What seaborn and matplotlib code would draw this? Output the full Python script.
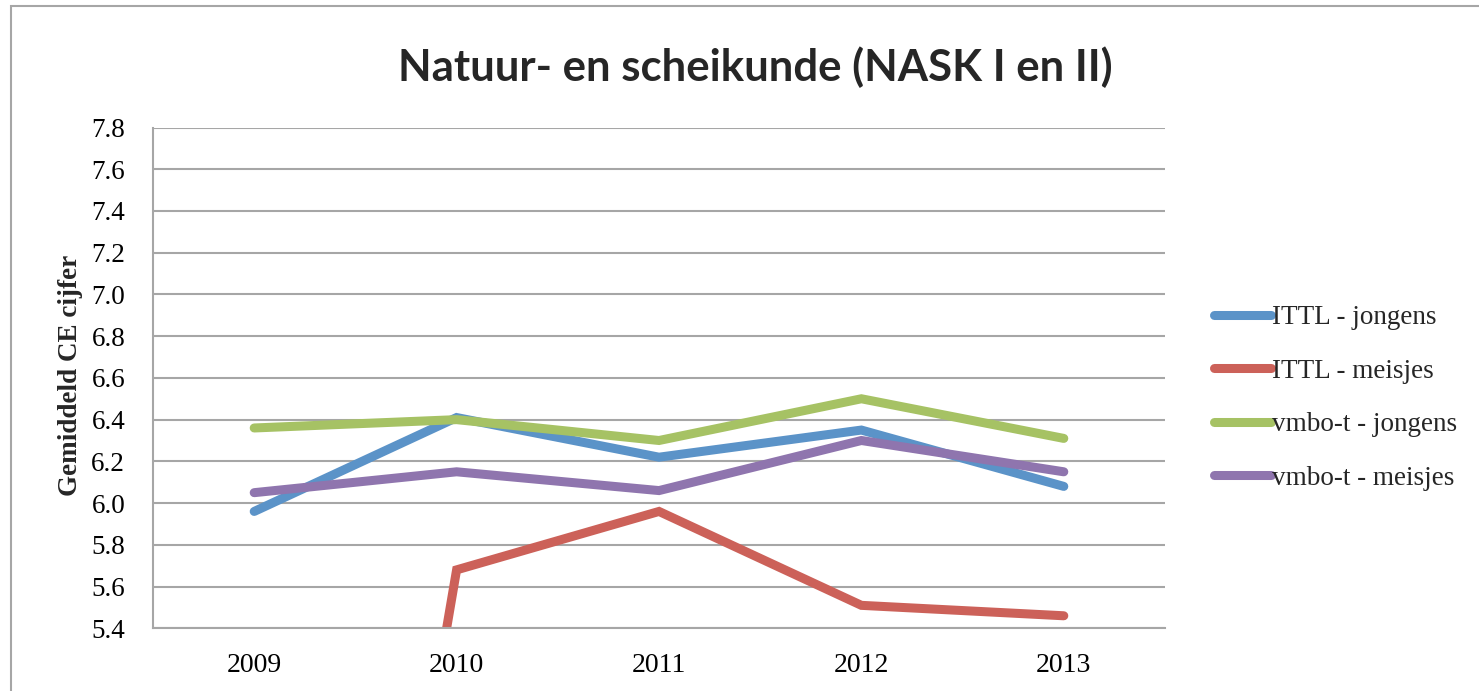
import matplotlib
matplotlib.use("Agg")
import matplotlib.pyplot as plt
import seaborn as sns
import pandas as pd
from matplotlib.patches import Rectangle
from matplotlib.lines import Line2D

years = ["2009", "2010", "2011", "2012", "2013"]
ittl_jongens = [5.96, 6.41, 6.22, 6.35, 6.08]
ittl_meisjes = [0.0, 5.68, 5.96, 5.51, 5.46]
vmbo_jongens = [6.36, 6.40, 6.30, 6.50, 6.31]
vmbo_meisjes = [6.05, 6.15, 6.06, 6.30, 6.15]
series_names = ["ITTL - jongens", "ITTL - meisjes", "vmbo-t - jongens", "vmbo-t - meisjes"]
colors = ["#5B93C8", "#CC6159", "#A6C264", "#8F75AE"]
yticks = [5.4, 5.6, 5.8, 6.0, 6.2, 6.4, 6.6, 6.8, 7.0, 7.2, 7.4, 7.6, 7.8]

rows = []
for name, vals in zip(series_names, [ittl_jongens, ittl_meisjes, vmbo_jongens, vmbo_meisjes]):
    for y, v in zip(years, vals):
        rows.append({"Jaar": y, "Cijfer": v, "Serie": name})
df = pd.DataFrame(rows)

sns.set_theme(style="white")
serif = ["Liberation Serif", "DejaVu Serif"]
plt.rcParams["font.family"] = serif

W, H = 1479, 691
fig = plt.figure(figsize=(W / 100, H / 100), dpi=100)
ax = fig.add_axes([153 / W, 1 - 628.3 / H, (1165 - 153) / W, (628.3 - 127.5) / H])

LW = 6.5
sns.lineplot(data=df, x="Jaar", y="Cijfer", hue="Serie", hue_order=series_names,
             palette=colors, linewidth=LW, ax=ax, sort=False, legend=False)
for ln in ax.get_lines():
    ln.set_solid_capstyle("round")
    ln.set_solid_joinstyle("miter")

ax.set_xlim(-0.5, 4.5)
ax.set_ylim(5.4, 7.8)
ax.set_yticks(yticks)
ax.set_yticklabels([f"{t:.1f}" for t in yticks])
ax.yaxis.grid(True, color="#A6A6A6", linewidth=1.5)
ax.set_axisbelow(True)
for s in ["top", "right"]:
    ax.spines[s].set_visible(False)
for s in ["left", "bottom"]:
    ax.spines[s].set_color("#A6A6A6")
    ax.spines[s].set_linewidth(1.5)
ax.tick_params(axis="both", length=0, colors="black")
ax.tick_params(axis="y", pad=20, labelsize=19.5)
ax.tick_params(axis="x", pad=18, labelsize=20)
ax.set_xlabel("")
ax.set_ylabel("Gemiddeld CE cijfer", fontsize=19.5, fontweight="bold", family=serif, labelpad=6)
ax.yaxis.label.set_y(0.505)

fig.text(755 / W, 1 - 67 / H, "Natuur- en scheikunde (NASK I en II)", ha="center", va="center",
         fontsize=31.5, fontweight="bold", family=["Lato", "DejaVu Sans"])

handles = [Line2D([0], [0], color=c, linewidth=LW, solid_capstyle="round") for c in colors]
fig.legend(handles, series_names, loc="center left", bbox_to_anchor=(1214 / W, 1 - 398 / H),
           frameon=False, fontsize=19.5, handlelength=2.1, handletextpad=0.05,
           labelspacing=1.05, borderpad=0, borderaxespad=0)

fig.patches.append(Rectangle((11 / W, -0.1), 1.2, (1 - 6 / H) + 0.1, transform=fig.transFigure,
                             fill=False, edgecolor="#A6A6A6", linewidth=1.5, figure=fig))

fig.savefig("out.png", dpi=100)
